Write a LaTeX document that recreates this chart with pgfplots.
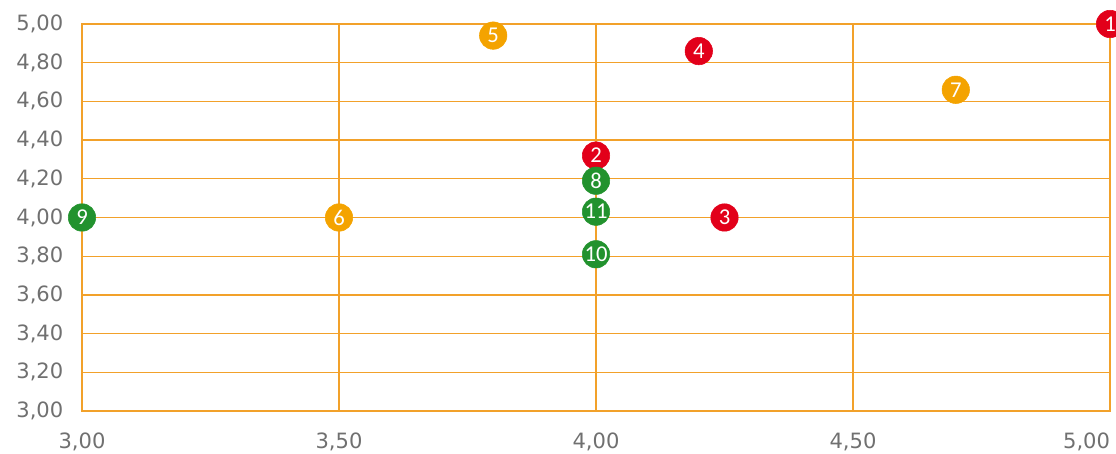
\documentclass[border=0pt]{standalone}
\usepackage{fontspec}
\setmainfont{DejaVu Sans}
\newfontfamily\lab{Carlito}
\usepackage{pgfplots}
\pgfplotsset{compat=1.18}
\definecolor{cred}{HTML}{E2001A}
\definecolor{corange}{HTML}{F4A300}
\definecolor{cgreen}{HTML}{22922E}
\definecolor{cgrid}{HTML}{F2A12A}
\definecolor{ctick}{HTML}{707070}
\begin{document}
\begin{tikzpicture}
\begin{axis}[
  name=ax,
  scale only axis,
  width=771pt, height=290.25pt,
  xmin=3, xmax=5, ymin=3, ymax=5,
  xtick={3,3.5,4,4.5,5},
  ytick={3,3.2,3.4,3.6,3.8,4,4.2,4.4,4.6,4.8,5},
  grid=major,
  major grid style={cgrid, line width=1pt},
  axis line style={cgrid, line width=1pt},
  major tick length=0pt,
  /pgf/number format/.cd, fixed, fixed zerofill, precision=2, use comma, assume math mode=true,
  /pgfplots/.cd,
  ticklabel style={font=\fontsize{15.8}{16}\selectfont, text=ctick},
  xticklabel={\ifdim\tick pt>4.9pt\makebox[0pt][r]{\axisdefaultticklabel}\else\axisdefaultticklabel\fi},
  xticklabel style={yshift=-12.5pt},
  yticklabel style={xshift=-10.5pt},
  clip=false,
  point meta=explicit symbolic,
  nodes near coords={\lab\fontsize{17}{17}\selectfont\pgfplotspointmeta},
  nodes near coords style={anchor=center, text=white, inner sep=0pt},
]
\addplot[only marks, mark=*, mark size=10.3pt, mark options={draw=cred, fill=cred}]
  table[meta=l] {
x y l
5.00 5.00 1
4.00 4.32 2
4.25 4.00 3
4.20 4.86 4
};
\addplot[only marks, mark=*, mark size=10.3pt, mark options={draw=corange, fill=corange}]
  table[meta=l] {
x y l
3.80 4.94 5
3.50 4.00 6
4.70 4.66 7
};
\addplot[only marks, mark=*, mark size=10.3pt, mark options={draw=cgreen, fill=cgreen}]
  table[meta=l] {
x y l
4.00 4.19 8
3.00 4.00 9
4.00 3.81 10
4.00 4.03 11
};
\end{axis}
\pgfresetboundingbox
\useasboundingbox ([xshift=-61.5pt, yshift=-31.5pt]ax.south west) rectangle ([xshift=4.5pt, yshift=18pt]ax.north east);
\end{tikzpicture}
\end{document}
